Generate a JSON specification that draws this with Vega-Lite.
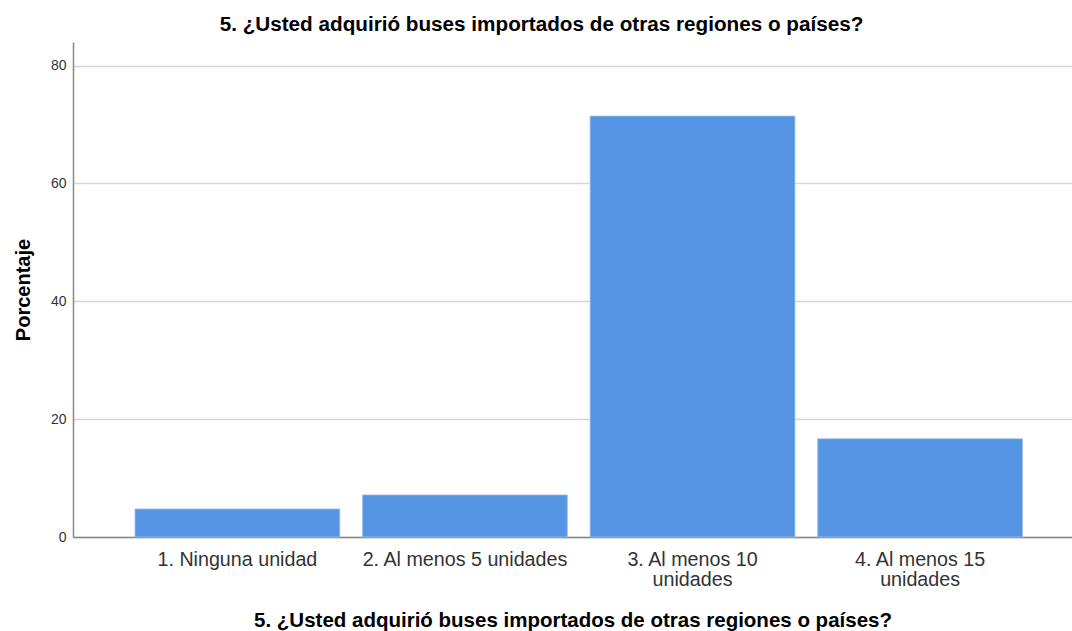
{
  "$schema": "https://vega.github.io/schema/vega-lite/v6.json",
  "autosize": "none",
  "width": 999,
  "height": 495,
  "padding": {"left": 73, "top": 42, "right": 0, "bottom": 94},
  "background": "white",
  "title": {
    "text": "5. ¿Usted adquirió buses importados de otras regiones o países?",
    "font": "Liberation Sans",
    "fontSize": 20.7,
    "fontWeight": "bold",
    "color": "#000000",
    "anchor": "middle",
    "dx": -31,
    "offset": 6
  },
  "data": {
    "values": [
      {"categoria": "1. Ninguna unidad", "porcentaje": 4.76},
      {"categoria": "2. Al menos 5 unidades", "porcentaje": 7.14},
      {"categoria": "3. Al menos 10 unidades", "porcentaje": 71.43},
      {"categoria": "4. Al menos 15 unidades", "porcentaje": 16.67}
    ]
  },
  "mark": {"type": "bar", "color": "#5595E3", "stroke": "#9cc0ef", "strokeWidth": 0.8},
  "encoding": {
    "x": {
      "field": "categoria",
      "type": "nominal",
      "sort": null,
      "title": "5. ¿Usted adquirió buses importados de otras regiones o países?",
      "scale": {"paddingInner": 0.1, "paddingOuter": 0.245, "align": 0.556},
      "axis": {
        "labelAngle": 0,
        "labelFont": "Liberation Sans",
        "labelFontSize": 19.7,
        "labelColor": "#333333",
        "labelPadding": 12,
        "labelLineHeight": 20,
        "labelLimit": 0,
        "labelExpr": "datum.value == '3. Al menos 10 unidades' ? ['3. Al menos 10', 'unidades'] : datum.value == '4. Al menos 15 unidades' ? ['4. Al menos 15', 'unidades'] : datum.value",
        "ticks": false,
        "domainColor": "#888888",
        "domainWidth": 1.5,
        "titleFont": "Liberation Sans",
        "titleFontSize": 20.5,
        "titleFontWeight": "bold",
        "titleColor": "#000000",
        "titlePadding": 22
      }
    },
    "y": {
      "field": "porcentaje",
      "type": "quantitative",
      "title": "Porcentaje",
      "scale": {"domain": [0, 84], "nice": false},
      "axis": {
        "values": [0, 20, 40, 60, 80],
        "ticks": false,
        "labelFont": "Liberation Sans",
        "labelFontSize": 14,
        "labelColor": "#333333",
        "labelPadding": 7,
        "domainColor": "#888888",
        "domainWidth": 1.5,
        "gridColor": "#d6d6d6",
        "gridWidth": 1.5,
        "titleFont": "Liberation Sans",
        "titleFontSize": 20,
        "titleFontWeight": "bold",
        "titleColor": "#000000",
        "titlePadding": 17
      }
    }
  },
  "config": {"view": {"stroke": null}}
}
